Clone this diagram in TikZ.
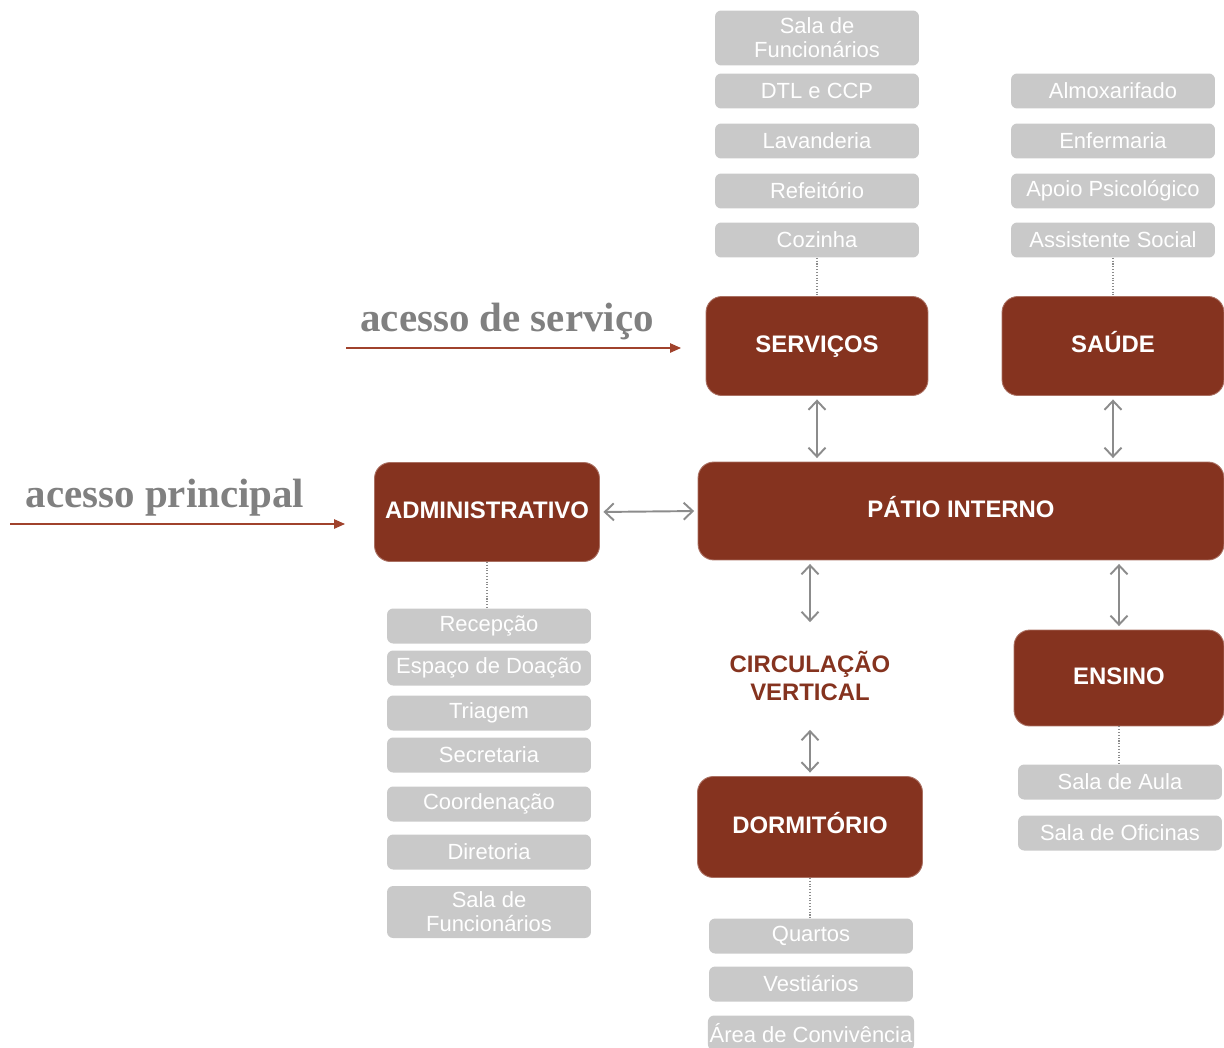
\documentclass[tikz,border=0pt]{standalone}
\usepackage{fontspec}
\setmainfont{Liberation Sans}
\newfontfamily\acessofont{Liberation Serif}
\usetikzlibrary{arrows.meta}
\definecolor{tijolo}{RGB}{133,51,31}
\definecolor{cinzabox}{RGB}{201,201,201}
\definecolor{cinzaseta}{RGB}{140,140,140}
\definecolor{cinzatxt}{RGB}{128,128,128}
\definecolor{setaacesso}{RGB}{160,66,44}

\begin{document}
\begin{tikzpicture}[x=0.02cm,y=-0.02cm,setor/.style={fill=tijolo,draw=tijolo!70!white,line width=.5pt,rounded corners=9pt,text=white,font=\fontsize{13.6}{15}\selectfont\bfseries,align=center,inner sep=2pt,text height=7.8pt,text depth=0pt},sub/.style={fill=cinzabox,rounded corners=3.5pt,text=white,minimum width=4.08cm,minimum height=.7cm,inner sep=1pt,align=center,font=\fontsize{12.5}{13.6}\selectfont},dup/.style={{Straight Barb[length=1.8mm,width=3.4mm]}-{Straight Barb[length=1.8mm,width=3.4mm]},draw=cinzaseta,line width=1.1pt,shorten <=2pt,shorten >=2pt},liga/.style={draw=cinzaseta,densely dotted,line width=.6pt},acesso/.style={-{Triangle[length=2.2mm,width=1.9mm]},draw=setaacesso,line width=.7pt},rotulo/.style={text=cinzatxt,font=\acessofont\fontsize{23.3}{26}\selectfont\bfseries}]
\useasboundingbox (0,0) rectangle (1224,1048);

% setores
\node[setor,minimum width=4.44cm,minimum height=1.98cm] (serv) at (817,346) {SERVIÇOS};
\node[setor,minimum width=4.44cm,minimum height=1.98cm] (saude) at (1113,346) {SAÚDE};
\node[setor,minimum width=4.5cm,minimum height=1.98cm] (adm) at (487,512) {ADMINISTRATIVO};
\node[setor,minimum width=10.52cm,minimum height=1.96cm] (patio) at (961,511) {PÁTIO INTERNO};
\node[setor,minimum width=4.2cm,minimum height=1.92cm] (ensino) at (1119,678) {ENSINO};
\node[setor,minimum width=4.5cm,minimum height=2.02cm] (dorm) at (810,827) {DORMITÓRIO};
\node[text=tijolo,font=\fontsize{13.6}{16}\selectfont\bfseries,align=center,minimum height=2cm,inner sep=0pt] (circ) at (810,676) {CIRCULAÇÃO\\VERTICAL};

% ambientes
\node[sub,minimum height=1.1cm] (srv1) at (817,38) {Sala de\\Funcionários};
\foreach \lbl/\yy/\k in {DTL e CCP/91/2,Lavanderia/141/3,Refeitório/191/4,Cozinha/240/5}
  \node[sub] (srv\k) at (817,\yy) {\lbl};
\foreach \lbl/\yy/\k in {Almoxarifado/91/1,Enfermaria/141/2,Apoio Psicológico/191/3,Assistente Social/240/4}
  \node[sub] (sau\k) at (1113,\yy) {\lbl};
\foreach \lbl/\yy/\k in {Recepção/626/1,Espaço de Doação/668/2,Triagem/713/3,Secretaria/755/4,Coordenação/804/5,Diretoria/852/6}
  \node[sub] (adm\k) at (489,\yy) {\lbl};
\node[sub,minimum height=1.04cm] (adm7) at (489,912) {Sala de\\Funcionários};
\node[sub] (ens1) at (1120,782) {Sala de Aula};
\node[sub] (ens2) at (1120,833) {Sala de Oficinas};
\foreach \lbl/\yy/\k in {Quartos/936/1,Vestiários/984/2,Área de Convivência/1033/3}
  \node[sub] (dor\k) at (811,\yy) {\lbl};

% acessos
\node[rotulo] (txtserv) at (507,322) {acesso de serviço};
\node[rotulo] (txtprinc) at (165,498) {acesso principal};
\coordinate (sa) at (346,348); \coordinate (sb) at (681,348);
\coordinate (pa) at (10,524); \coordinate (pb) at (345,524);
\draw[acesso] (sa) -- (sb);
\draw[acesso] (pa) -- (pb);

% ligacoes
\draw[dup] (serv.south) -- (serv.south |- patio.north);
\draw[dup] (saude.south) -- (saude.south |- patio.north);
\draw[dup] (adm.east) -- (patio.west);
\draw[dup] (circ.north |- patio.south) -- (circ.north);
\draw[dup] (circ.south) -- (dorm.north);
\draw[dup] (ensino.north |- patio.south) -- (ensino.north);
\draw[liga] (srv5.south) -- (serv.north);
\draw[liga] (sau4.south) -- (saude.north);
\draw[liga] (adm.south) -- (adm.south |- adm1.north);
\draw[liga] (ensino.south) -- (ensino.south |- ens1.north);
\draw[liga] (dorm.south) -- (dorm.south |- dor1.north);
\end{tikzpicture}
\end{document}
